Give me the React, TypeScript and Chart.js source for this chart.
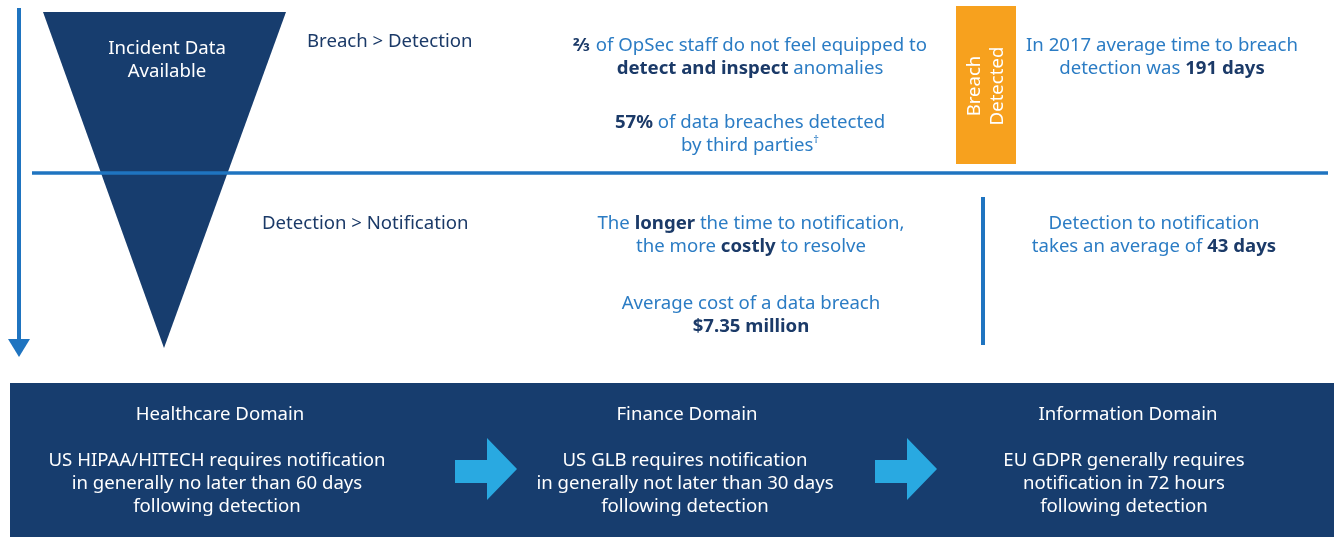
import React, { useEffect, useRef } from "react";
import { Chart, registerables } from "chart.js";

Chart.register(...registerables);

const W = 1334;
const H = 537;

// shape definitions (infographic geometry, in value space of the 0..W / 0..H scales)
const funnelX = [43, 286, 164];
const funnelY = [12, 12, 348];
const timelineX = [19, 19];
const timelineY = [8, 342];
const timelineHeadX = [8, 30, 19];
const timelineHeadY = [339, 339, 357];
const dividerX = [32, 1328];
const dividerY = [173, 173];
const detectedBoxX = [956, 1016];
const detectedBoxY = [6, 164];
const notifyBarX = [983, 983];
const notifyBarY = [197, 345];
const domainBoxX = [10, 1334];
const domainBoxY = [383, 537];
const arrowStartX = [455, 875];
const arrowShaftY = [460, 483];
const arrowHeadY = [438, 500];
const arrowHeadStart = 32;
const arrowLen = 62;

const NAVY = "#173d6e";
const BLUE = "#1f74c0";
const TEXT_BLUE = "#2b7cc4";
const TEXT_NAVY = "#1b3a68";
const ORANGE = "#f7a11e";
const LIGHT = "#29a9e1";

type Run = { t: string; b?: boolean; sup?: boolean };
type Block = { x: number; y: number; align: "left" | "center"; color: string; lines: Run[][] };

const blocks: Block[] = [
  { x: 167, y: 46, align: "center", color: "#ffffff", lines: [[{ t: "Incident Data" }], [{ t: "Available" }]] },
  { x: 307, y: 39, align: "left", color: TEXT_NAVY, lines: [[{ t: "Breach > Detection" }]] },
  {
    x: 750, y: 43, align: "center", color: TEXT_BLUE,
    lines: [
      [{ t: "⅔", b: true }, { t: " of OpSec staff do not feel equipped to" }],
      [{ t: "detect and inspect", b: true }, { t: " anomalies" }],
    ],
  },
  {
    x: 750, y: 120, align: "center", color: TEXT_BLUE,
    lines: [
      [{ t: "57%", b: true }, { t: " of data breaches detected" }],
      [{ t: "by third parties" }, { t: "†", sup: true }],
    ],
  },
  {
    x: 1162, y: 43, align: "center", color: TEXT_BLUE,
    lines: [[{ t: "In 2017 average time to breach" }], [{ t: "detection was " }, { t: "191 days", b: true }]],
  },
  { x: 262, y: 221, align: "left", color: TEXT_NAVY, lines: [[{ t: "Detection > Notification" }]] },
  {
    x: 751, y: 221, align: "center", color: TEXT_BLUE,
    lines: [
      [{ t: "The " }, { t: "longer", b: true }, { t: " the time to notification," }],
      [{ t: "the more " }, { t: "costly", b: true }, { t: " to resolve" }],
    ],
  },
  {
    x: 751, y: 301, align: "center", color: TEXT_BLUE,
    lines: [[{ t: "Average cost of a data breach" }], [{ t: "$7.35 million", b: true }]],
  },
  {
    x: 1154, y: 221, align: "center", color: TEXT_BLUE,
    lines: [[{ t: "Detection to notification" }], [{ t: "takes an average of " }, { t: "43 days", b: true }]],
  },
  { x: 220, y: 412, align: "center", color: "#ffffff", lines: [[{ t: "Healthcare Domain" }]] },
  {
    x: 217, y: 458, align: "center", color: "#ffffff",
    lines: [
      [{ t: "US HIPAA/HITECH requires notification" }],
      [{ t: "in generally no later than 60 days" }],
      [{ t: "following detection" }],
    ],
  },
  { x: 687, y: 412, align: "center", color: "#ffffff", lines: [[{ t: "Finance Domain" }]] },
  {
    x: 685, y: 458, align: "center", color: "#ffffff",
    lines: [
      [{ t: "US GLB requires notification" }],
      [{ t: "in generally not later than 30 days" }],
      [{ t: "following detection" }],
    ],
  },
  { x: 1128, y: 412, align: "center", color: "#ffffff", lines: [[{ t: "Information Domain" }]] },
  {
    x: 1124, y: 458, align: "center", color: "#ffffff",
    lines: [
      [{ t: "EU GDPR generally requires" }],
      [{ t: "notification in 72 hours" }],
      [{ t: "following detection" }],
    ],
  },
];

const rotatedLabel = ["Breach", "Detected"];
const rotatedLabelX = [975, 998];
const rotatedLabelY = 86;

const FONT = '"Noto Sans", "Open Sans", sans-serif';
const FS = 18.6;
const LH = 23;

const shapesPlugin = {
  id: "shapes",
  beforeDatasetsDraw(chart: any) {
    const ctx = chart.ctx as CanvasRenderingContext2D;
    const sx = (v: number) => chart.scales.x.getPixelForValue(v);
    const sy = (v: number) => chart.scales.y.getPixelForValue(v);
    ctx.save();

    // funnel
    ctx.fillStyle = NAVY;
    ctx.beginPath();
    funnelX.forEach((x, i) => (i ? ctx.lineTo(sx(x), sy(funnelY[i])) : ctx.moveTo(sx(x), sy(funnelY[i]))));
    ctx.closePath();
    ctx.fill();

    // timeline arrow
    ctx.strokeStyle = BLUE;
    ctx.lineWidth = 4;
    ctx.beginPath();
    ctx.moveTo(sx(timelineX[0]), sy(timelineY[0]));
    ctx.lineTo(sx(timelineX[1]), sy(timelineY[1]));
    ctx.stroke();
    ctx.fillStyle = BLUE;
    ctx.beginPath();
    timelineHeadX.forEach((x, i) => (i ? ctx.lineTo(sx(x), sy(timelineHeadY[i])) : ctx.moveTo(sx(x), sy(timelineHeadY[i]))));
    ctx.closePath();
    ctx.fill();

    // divider
    ctx.lineWidth = 3.5;
    ctx.beginPath();
    ctx.moveTo(sx(dividerX[0]), sy(dividerY[0]));
    ctx.lineTo(sx(dividerX[1]), sy(dividerY[1]));
    ctx.stroke();

    // notify bar
    ctx.lineWidth = 4;
    ctx.beginPath();
    ctx.moveTo(sx(notifyBarX[0]), sy(notifyBarY[0]));
    ctx.lineTo(sx(notifyBarX[1]), sy(notifyBarY[1]));
    ctx.stroke();

    // detected box
    ctx.fillStyle = ORANGE;
    ctx.fillRect(sx(detectedBoxX[0]), sy(detectedBoxY[0]), sx(detectedBoxX[1]) - sx(detectedBoxX[0]), sy(detectedBoxY[1]) - sy(detectedBoxY[0]));
    ctx.fillStyle = "#ffffff";
    ctx.font = `${FS}px ${FONT}`;
    ctx.textAlign = "center";
    ctx.textBaseline = "middle";
    rotatedLabel.forEach((t, i) => {
      ctx.save();
      ctx.translate(sx(rotatedLabelX[i]), sy(rotatedLabelY));
      ctx.rotate(-Math.PI / 2);
      ctx.fillText(t, 0, 0);
      ctx.restore();
    });

    // domain box
    ctx.fillStyle = NAVY;
    ctx.fillRect(sx(domainBoxX[0]), sy(domainBoxY[0]), sx(domainBoxX[1]) - sx(domainBoxX[0]), sy(domainBoxY[1]) - sy(domainBoxY[0]));

    // arrows
    ctx.fillStyle = LIGHT;
    arrowStartX.forEach((x0) => {
      const mid = (arrowHeadY[0] + arrowHeadY[1]) / 2;
      ctx.beginPath();
      ctx.moveTo(sx(x0), sy(arrowShaftY[0]));
      ctx.lineTo(sx(x0 + arrowHeadStart), sy(arrowShaftY[0]));
      ctx.lineTo(sx(x0 + arrowHeadStart), sy(arrowHeadY[0]));
      ctx.lineTo(sx(x0 + arrowLen), sy(mid));
      ctx.lineTo(sx(x0 + arrowHeadStart), sy(arrowHeadY[1]));
      ctx.lineTo(sx(x0 + arrowHeadStart), sy(arrowShaftY[1]));
      ctx.lineTo(sx(x0), sy(arrowShaftY[1]));
      ctx.closePath();
      ctx.fill();
    });

    ctx.restore();
  },
};

export default function App() {
  const ref = useRef<HTMLCanvasElement>(null);
  useEffect(() => {
    document.body.style.margin = "0";
    const chart = new Chart(ref.current!, {
      type: "scatter",
      data: { datasets: [{ data: [], pointRadius: 0 }] },
      options: {
        responsive: false,
        animation: false,
        layout: { padding: 0 },
        plugins: { legend: { display: false }, tooltip: { enabled: false } },
        scales: {
          x: { type: "linear", min: 0, max: W, display: false },
          y: { type: "linear", min: 0, max: H, reverse: true, display: false },
        },
      },
      plugins: [shapesPlugin],
    });
    return () => chart.destroy();
  }, []);

  return (
    <div style={{ position: "fixed", left: 0, top: 0, width: W, height: H, background: "#fff", fontFamily: FONT }}>
      <canvas ref={ref} width={W} height={H} style={{ position: "absolute", left: 0, top: 0, width: W, height: H }} />
      {blocks.map((b, i) => (
        <div
          key={i}
          style={{
            position: "absolute",
            top: b.y - LH / 2,
            left: b.align === "center" ? b.x - 300 : b.x,
            width: b.align === "center" ? 600 : "auto",
            textAlign: b.align,
            whiteSpace: "nowrap",
            color: b.color,
            fontSize: FS,
            lineHeight: `${LH}px`,
          }}
        >
          {b.lines.map((ln, j) => (
            <div key={j}>
              {ln.map((r, k) =>
                r.b ? (
                  <span key={k} style={{ fontWeight: 700, color: b.color === "#ffffff" ? "#fff" : TEXT_NAVY }}>
                    {r.t}
                  </span>
                ) : r.sup ? (
                  <span key={k} style={{ fontSize: FS * 0.6, verticalAlign: "top", lineHeight: "14px" }}>
                    {r.t}
                  </span>
                ) : (
                  <span key={k}>{r.t}</span>
                )
              )}
            </div>
          ))}
        </div>
      ))}
    </div>
  );
}
